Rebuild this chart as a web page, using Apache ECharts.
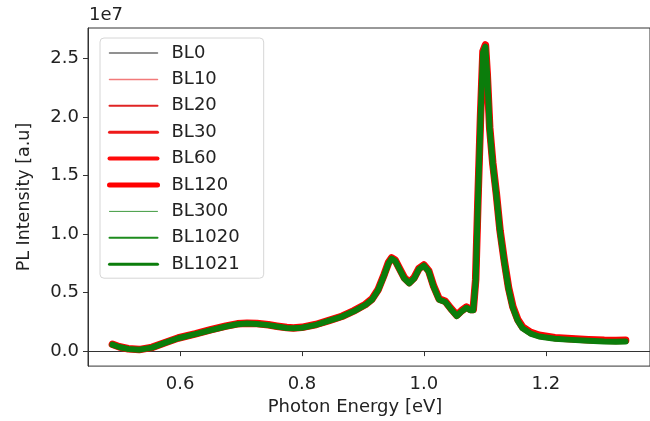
<!DOCTYPE html>
<html>
<head>
<meta charset="utf-8">
<script src="https://cdn.jsdelivr.net/npm/echarts@6/dist/echarts.min.js"></script>
<style>
html,body{margin:0;padding:0;background:#fff;}
#chart{width:650px;height:421px;}
</style>
</head>
<body>
<div id="chart"></div>
<script>
// Photon energy [eV]
const energy = [0.489,0.500,0.515,0.533,0.554,0.575,0.597,0.625,0.651,0.675,0.694,0.710,0.726,0.745,0.759,0.775,0.786,0.800,0.823,0.845,0.866,0.885,0.904,0.915,0.925,0.935,0.942,0.947,0.953,0.960,0.968,0.976,0.984,0.992,1.000,1.008,1.016,1.025,1.035,1.044,1.054,1.062,1.070,1.076,1.081,1.085,1.089,1.093,1.097,1.101,1.104,1.108,1.113,1.119,1.125,1.132,1.139,1.146,1.154,1.162,1.175,1.189,1.215,1.242,1.270,1.296,1.315,1.331];
// PL intensity (x1e7), red-family samples
const plRed = [0.058,0.037,0.020,0.013,0.032,0.072,0.112,0.147,0.183,0.213,0.233,0.238,0.235,0.225,0.213,0.201,0.198,0.203,0.227,0.263,0.298,0.344,0.398,0.445,0.525,0.656,0.756,0.796,0.776,0.706,0.626,0.586,0.626,0.706,0.736,0.686,0.556,0.446,0.426,0.366,0.306,0.346,0.376,0.356,0.356,0.610,1.340,2.010,2.560,2.615,2.360,1.910,1.610,1.340,1.030,0.770,0.540,0.380,0.270,0.205,0.160,0.135,0.115,0.106,0.098,0.092,0.090,0.092];
// PL intensity (x1e7), green-family samples
const plGreen = [0.055,0.035,0.018,0.011,0.030,0.070,0.110,0.145,0.180,0.210,0.230,0.235,0.232,0.222,0.210,0.198,0.195,0.200,0.224,0.260,0.295,0.340,0.394,0.440,0.520,0.650,0.750,0.790,0.770,0.700,0.620,0.580,0.620,0.700,0.730,0.680,0.550,0.440,0.420,0.360,0.300,0.340,0.370,0.350,0.350,0.600,1.330,2.000,2.550,2.600,2.350,1.900,1.600,1.330,1.020,0.760,0.530,0.370,0.260,0.195,0.150,0.125,0.105,0.096,0.088,0.082,0.080,0.082];

const seriesNames = ['BL0','BL10','BL20','BL30','BL60','BL120','BL300','BL1020','BL1021'];
const seriesColors = ['#6e6e6e','#f27a7a','#e02424','#ee1a1a','#ff0a0a','#ff0000','#3f9a3f','#1e8c1e','#0b7d0b'];
const plotWidths = [2,3,4,5,6,7.5,3,4.5,6];
const legendWidths = [1.5,1.5,2,3,4,5,1,2,3];
const seriesData = ['red','red','red','red','red','red','green','green','green'];

const xTicks = [0.6,0.8,1.0,1.2];
const yTicks = [0,0.5e7,1.0e7,1.5e7,2.0e7,2.5e7];

const font = 'DejaVu Sans';
const chart = echarts.init(document.getElementById('chart'), null, {renderer:'canvas'});

const series = seriesNames.map((n,i)=>{
  const vals = seriesData[i]==='red' ? plRed : plGreen;
  return {
    name:n, type:'line', symbol:'none', showSymbol:false, smooth:false,
    data: energy.map((e,k)=>[e, vals[k]*1e7]),
    lineStyle:{color:seriesColors[i], width:plotWidths[i], cap:'round', join:'round'},
    itemStyle:{color:seriesColors[i]},
    emphasis:{disabled:true}, animation:false, z:2+i
  };
});

chart.setOption({
  animation:false,
  backgroundColor:'#fff',
  grid:{left:88, right:-9, top:28, bottom:53, show:true, borderColor:'#333', borderWidth:1},
  xAxis:{
    type:'value', min:0.449, max:1.371,
    name:'Photon Energy [eV]', nameLocation:'middle', nameGap:29,
    nameTextStyle:{fontFamily:font, fontSize:18, color:'#222', padding:[0,28,0,0]},
    axisLine:{show:true, lineStyle:{color:'#333', width:1}},
    axisTick:{show:true, length:5, customValues:xTicks, lineStyle:{color:'#333'}},
    axisLabel:{customValues:xTicks, margin:9, fontFamily:font, fontSize:18, color:'#222',
      formatter:v=>v.toFixed(1)},
    splitLine:{show:false}
  },
  yAxis:{
    type:'value', min:-0.128e7, max:2.76e7,
    name:'PL Intensity [a.u]', nameLocation:'middle', nameGap:55, nameRotate:90,
    nameTextStyle:{fontFamily:font, fontSize:17.5, color:'#222'},
    axisLine:{show:true, lineStyle:{color:'#333', width:1}},
    axisTick:{show:true, length:5, customValues:yTicks, lineStyle:{color:'#333'}},
    axisLabel:{customValues:yTicks, margin:9, fontFamily:font, fontSize:18, color:'#222',
      formatter:v=>(v/1e7).toFixed(1)},
    splitLine:{show:false}
  },
  legend:{
    orient:'vertical', left:100, top:38,
    itemWidth:48, itemHeight:14, itemGap:8.4,
    padding:[6,24,5,7],
    backgroundColor:'rgba(255,255,255,0.85)', borderColor:'#d6d6d6', borderWidth:1, borderRadius:4,
    textStyle:{fontFamily:font, fontSize:18, color:'#222', lineHeight:18, padding:[0,0,0,9]},
    data: seriesNames.map((n,i)=>({name:n,
      itemStyle:{color:'rgba(0,0,0,0)', borderWidth:0, opacity:0},
      lineStyle:{color:seriesColors[i], width:legendWidths[i], opacity:1}})),
    selectedMode:false
  },
  graphic:[{type:'text', left:89, top:6, style:{text:'1e7', font:'18px "DejaVu Sans"', fill:'#222'}}],
  series: series
});
</script>
</body>
</html>
